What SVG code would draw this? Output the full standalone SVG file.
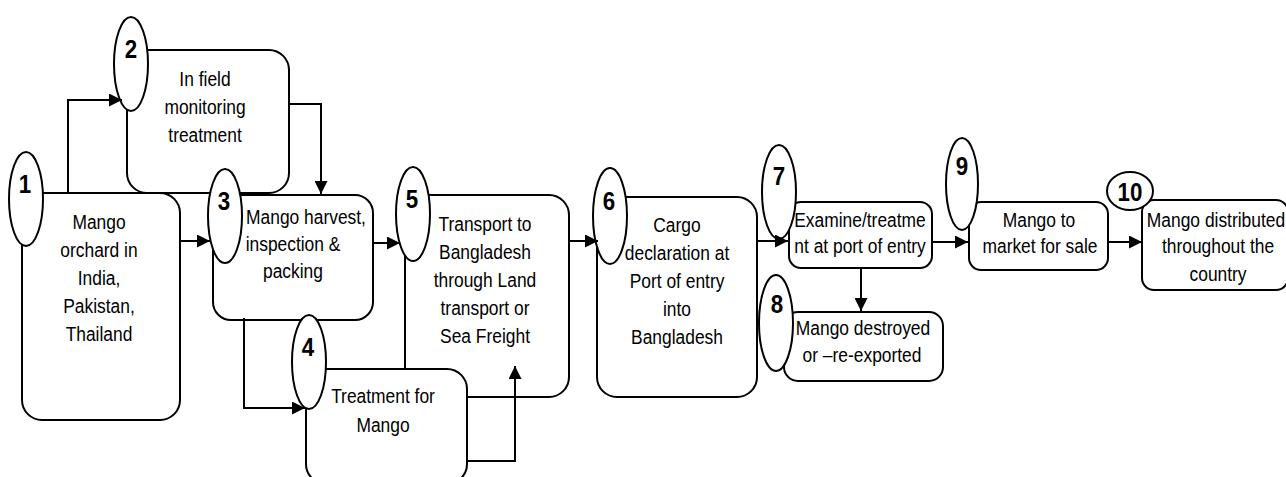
<svg xmlns="http://www.w3.org/2000/svg" width="1286" height="477" viewBox="0 0 1286 477">
<defs>
<style>
.box{fill:#fff;stroke:#000;stroke-width:2}
.ell{fill:#fff;stroke:#000;stroke-width:2}
.t{font-family:"Liberation Sans",Arial,sans-serif;font-size:20px;text-anchor:middle;fill:#000;transform-box:fill-box;transform-origin:center;transform:scaleX(0.87)}
.n{font-family:"Liberation Sans",Arial,sans-serif;font-size:26px;font-weight:bold;text-anchor:middle;fill:#000;transform-box:fill-box;transform-origin:center;transform:scaleX(0.86)}
.conn path{fill:none;stroke:#000;stroke-width:2;marker-end:url(#ah)}
</style>
<marker id="ah" markerUnits="userSpaceOnUse" markerWidth="13" markerHeight="13" refX="13" refY="6.5" orient="auto">
<path d="M0,0 L13,6.5 L0,13 z" fill="#000"/>
</marker>
</defs>
<rect width="1286" height="477" fill="#fff"/>

<g id="node1">
<rect class="box" x="22" y="193" width="158" height="227" rx="20"/>
<ellipse class="ell" cx="26" cy="199" rx="17" ry="47"/>
<text class="n" x="25" y="193">1</text>
<text class="t" x="99" y="229">Mango</text>
<text class="t" x="99" y="257">orchard in</text>
<text class="t" x="99" y="285">India,</text>
<text class="t" x="99" y="313">Pakistan,</text>
<text class="t" x="99" y="341">Thailand</text>
</g>

<g id="node2">
<rect class="box" x="127" y="50" width="162" height="143" rx="20"/>
<ellipse class="ell" cx="131" cy="64" rx="17" ry="47"/>
<text class="n" x="131" y="58">2</text>
<text class="t" x="205" y="86">In field</text>
<text class="t" x="205" y="114">monitoring</text>
<text class="t" x="205" y="142">treatment</text>
</g>

<g id="node3">
<rect class="box" x="213" y="195" width="160" height="125" rx="18"/>
<ellipse class="ell" cx="225" cy="216" rx="17" ry="47"/>
<text class="n" x="224" y="210">3</text>
<text class="t" x="306" y="224">Mango harvest,</text>
<text class="t" x="293" y="251">inspection &amp;</text>
<text class="t" x="293" y="278">packing</text>
</g>

<g id="node5">
<rect class="box" x="405" y="195" width="164" height="202" rx="20"/>
<ellipse class="ell" cx="413" cy="214" rx="17" ry="47"/>
<text class="n" x="412" y="208">5</text>
<text class="t" x="485" y="231">Transport to</text>
<text class="t" x="485" y="259">Bangladesh</text>
<text class="t" x="485" y="287">through Land</text>
<text class="t" x="485" y="315">transport or</text>
<text class="t" x="485" y="343">Sea Freight</text>
</g>

<g id="node4">
<rect class="box" x="306" y="369" width="161" height="115" rx="20"/>
<ellipse class="ell" cx="309" cy="362" rx="17" ry="47"/>
<text class="n" x="308" y="356">4</text>
<text class="t" x="383" y="403">Treatment for</text>
<text class="t" x="383" y="432">Mango</text>
</g>

<g id="node6">
<rect class="box" x="597" y="197" width="160" height="200" rx="20"/>
<ellipse class="ell" cx="610" cy="216" rx="17" ry="48"/>
<text class="n" x="609" y="210">6</text>
<text class="t" x="677" y="232">Cargo</text>
<text class="t" x="677" y="260">declaration at</text>
<text class="t" x="677" y="288">Port of entry</text>
<text class="t" x="677" y="316">into</text>
<text class="t" x="677" y="344">Bangladesh</text>
</g>

<g id="node7">
<rect class="box" x="789" y="202" width="143" height="66" rx="12"/>
<ellipse class="ell" cx="779" cy="192" rx="17" ry="47"/>
<text class="n" x="779" y="185">7</text>
<text class="t" x="860" y="227">Examine/treatme</text>
<text class="t" x="860" y="253">nt at port of entry</text>
</g>

<g id="node8">
<rect class="box" x="784" y="312" width="159" height="69" rx="14"/>
<ellipse class="ell" cx="776" cy="323" rx="17" ry="48"/>
<text class="n" x="777" y="313">8</text>
<text class="t" x="863" y="335">Mango destroyed</text>
<text class="t" x="862" y="362">or –re-exported</text>
</g>

<g id="node9">
<rect class="box" x="969" y="202" width="139" height="68" rx="12"/>
<ellipse class="ell" cx="962" cy="184" rx="16" ry="46"/>
<text class="n" x="962" y="175">9</text>
<text class="t" x="1039" y="227">Mango to</text>
<text class="t" x="1040" y="253">market for sale</text>
</g>

<g id="node10">
<rect class="box" x="1142" y="200" width="146" height="90" rx="12"/>
<ellipse class="ell" cx="1130" cy="191" rx="23" ry="19"/>
<text class="n" x="1130" y="201">10</text>
<text class="t" x="1216" y="227">Mango distributed</text>
<text class="t" x="1218" y="253">throughout the</text>
<text class="t" x="1218" y="281">country</text>
</g>

<g id="connectors" class="conn">
<path d="M68,193 V100 H122"/>
<path d="M289,104 H321 V194"/>
<path d="M179,241 H210"/>
<path d="M373,243 H400"/>
<path d="M244,318 V408 H305"/>
<path d="M467,461 H515 V366"/>
<path d="M569,241 H598"/>
<path d="M757,241 H788"/>
<path d="M861,268 V311"/>
<path d="M932,242 H968"/>
<path d="M1108,242 H1142"/>
</g>
</svg>
